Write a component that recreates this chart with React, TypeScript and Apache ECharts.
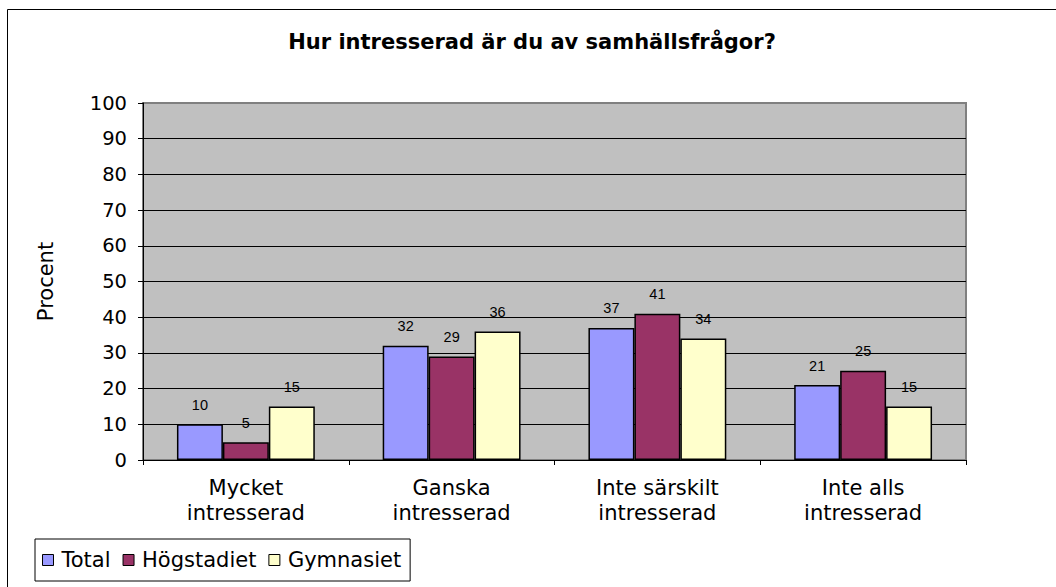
import React, { useEffect, useRef } from "react";
import * as echarts from "echarts";

const categories = ["Mycket\nintresserad", "Ganska\nintresserad", "Inte särskilt\nintresserad", "Inte alls\nintresserad"];
const seriesNames = ["Total", "Högstadiet", "Gymnasiet"];
const totalValues = [10, 32, 37, 21];
const hogstadietValues = [5, 29, 41, 25];
const gymnasietValues = [15, 36, 34, 15];
const seriesColors = ["#9999FF", "#993366", "#FFFFCC"];
const titleText = "Hur intresserad är du av samhällsfrågor?";
const yAxisName = "Procent";

const FONT = "DejaVu Sans, Verdana, sans-serif";

export default function App() {
  const ref = useRef<HTMLDivElement>(null);
  useEffect(() => {
    if (!ref.current) return;
    const chart = echarts.init(ref.current, null, { renderer: "svg" });
    const values = [totalValues, hogstadietValues, gymnasietValues];
    const gridLineColors = ["#000", "#000", "#000", "#000", "#000", "#000", "#000", "#000", "#000", "#000", "#808080"];
    chart.setOption({
      animation: false,
      backgroundColor: "#ffffff",
      title: {
        text: titleText,
        left: 527,
        textAlign: "center",
        top: 26,
        textStyle: { fontFamily: FONT, fontSize: 21, fontWeight: "bold", color: "#000" },
      },
      graphic: [
        {
          type: "rect",
          shape: { x: 7.5, y: 9.5, width: 2000, height: 2000 },
          style: { fill: "none", stroke: "#000", lineWidth: 1 },
          silent: true,
          z: 100,
        },
      ],
      legend: {
        left: 35,
        top: 539,
        orient: "horizontal",
        padding: [9, 9, 9, 7],
        borderColor: "#000",
        borderWidth: 1,
        itemWidth: 11,
        itemHeight: 11,
        itemGap: 12,
        icon: "rect",
        itemStyle: { borderColor: "#000", borderWidth: 1 },
        textStyle: { fontFamily: FONT, fontSize: 21, color: "#000", padding: [0, 0, 0, 3], lineHeight: 24 },
        data: seriesNames,
      },
      grid: {
        left: 143,
        top: 103,
        right: 90,
        bottom: 127,
        show: true,
        backgroundColor: "#C0C0C0",
        borderColor: "#808080",
        borderWidth: 2,
      },
      xAxis: {
        type: "category",
        data: categories,
        axisLine: { show: true, lineStyle: { color: "#000", width: 1 } },
        axisTick: { show: true, length: 5, lineStyle: { color: "#000" } },
        axisLabel: {
          fontFamily: FONT,
          fontSize: 21,
          color: "#000",
          lineHeight: 25,
          margin: 15,
          interval: 0,
        },
      },
      yAxis: {
        type: "value",
        min: 0,
        max: 100,
        interval: 10,
        name: yAxisName,
        nameLocation: "middle",
        nameGap: 87,
        nameRotate: 90,
        nameTextStyle: { fontFamily: FONT, fontSize: 21, color: "#000" },
        axisLine: { show: true, lineStyle: { color: "#000", width: 1 } },
        axisTick: { show: true, length: 5, lineStyle: { color: "#000" } },
        axisLabel: { fontFamily: FONT, fontSize: 19.5, color: "#000", margin: 16 },
        splitLine: { show: true, lineStyle: { color: gridLineColors, width: 1 } },
      },
      series: seriesNames.map((name, i) => ({
        name,
        type: "bar",
        data: values[i],
        barGap: "0%",
        barCategoryGap: "33%",
        itemStyle: { color: seriesColors[i], borderColor: "#000", borderWidth: 1.5 },
        label: {
          show: true,
          position: "top",
          distance: 12,
          fontFamily: "Liberation Sans, Arial, sans-serif",
          fontSize: 14.5,
          color: "#000",
        },
      })),
    });
    return () => chart.dispose();
  }, []);
  return (
    <div
      ref={ref}
      style={{ position: "fixed", left: 0, top: 0, width: 1056, height: 587, background: "#fff" }}
    />
  );
}
